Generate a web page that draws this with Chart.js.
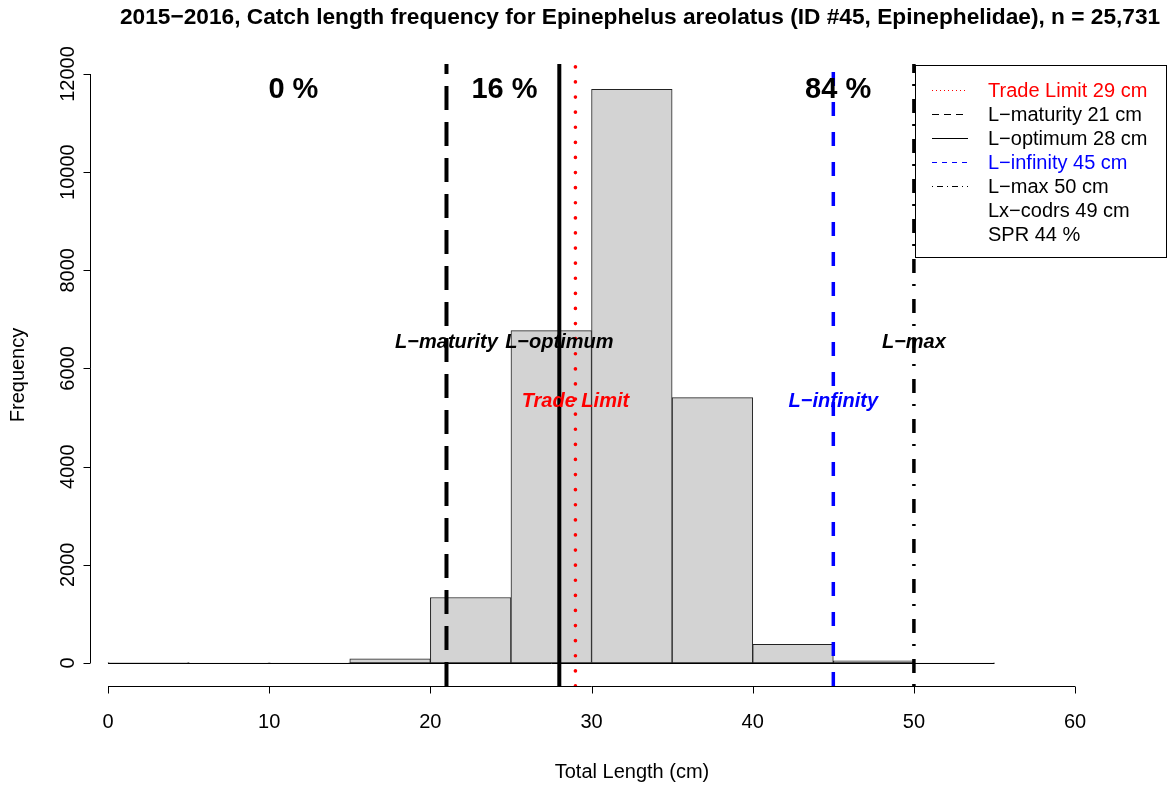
<!DOCTYPE html>
<html>
<head>
<meta charset="utf-8">
<script src="https://cdn.jsdelivr.net/npm/chart.js@4"></script>
<style>
  html,body{margin:0;padding:0;background:#fff;}
  canvas{display:block;}
</style>
</head>
<body>
<canvas id="hist" width="1174" height="787"></canvas>
<script>
// length bins (cm, lower edge) and catch counts per 5 cm bin
const binStarts = [0,5,10,15,20,25,30,35,40,45,50];
const binWidth = 5;
const counts = [10,3,4,85,1335,6770,11690,5405,380,45,4];

// reference lengths drawn as vertical lines
const refNames  = ['Trade Limit','L\u2212maturity','L\u2212optimum','L\u2212infinity','L\u2212max'];
const refValues = [29,21,28,45,50];
const refColors = ['red','black','black','blue','black'];
const refLabelY = [5330,6540,6540,5330,6540];

// share of catch in each length zone
const pctLabels = ['0 %','16 %','84 %'];
const pctX = [11.5,24.6,45.3];

const legendLines = ['Trade Limit 29 cm','L\u2212maturity 21 cm','L\u2212optimum 28 cm','L\u2212infinity 45 cm','L\u2212max 50 cm','Lx\u2212codrs 49 cm','SPR 44 %'];
const legendColors = ['red','black','black','blue','black','black','black'];

const xTicks = [0,10,20,30,40,50,60];
const yTicks = [0,2000,4000,6000,8000,10000,12000];

const FONT = '"Liberation Sans", Arial, Helvetica, sans-serif';

const dashFor = {
  'Trade Limit':[0.1,15],
  'L\u2212maturity':[24,12],
  'L\u2212optimum':[],
  'L\u2212infinity':[14,16],
  'L\u2212max':[2,11,14,13]
};
const widthFor = {'Trade Limit':3.6,'L\u2212maturity':4,'L\u2212optimum':4,'L\u2212infinity':3.5,'L\u2212max':3.5};

const refSets = refNames.map((n,i)=>({
  type:'line',
  label:n,
  data:[{x:refValues[i],y:-469},{x:refValues[i],y:12204}],
  borderColor:refColors[i],
  borderWidth:widthFor[n],
  borderDash:dashFor[n],
  borderCapStyle:n==='Trade Limit'?'round':'butt',
  pointRadius:0,
  fill:false,
  order:0
}));

const histSet = {
  type:'bar',
  label:'Frequency',
  data:binStarts.map((b,i)=>({x:b+binWidth/2,y:counts[i]})),
  backgroundColor:'#d3d3d3',
  borderColor:'#222',
  borderWidth:1,
  borderSkipped:false,
  barPercentage:1,
  categoryPercentage:1,
  order:1
};

// axes, titles and annotations in the style of base R graphics
const decor = {
  id:'decor',
  afterDatasetsDraw(chart){
    const {ctx} = chart;
    const xs = chart.scales.x, ys = chart.scales.y;
    ctx.save();
    ctx.fillStyle = '#000';
    ctx.strokeStyle = '#000';
    ctx.lineWidth = 1;

    // baseline under the bins
    ctx.beginPath();
    ctx.moveTo(xs.getPixelForValue(binStarts[0]), Math.round(ys.getPixelForValue(0))+0.5);
    ctx.lineTo(xs.getPixelForValue(binStarts[binStarts.length-1]+binWidth), Math.round(ys.getPixelForValue(0))+0.5);
    ctx.stroke();

    // x axis
    const axY = chart.chartArea.bottom + 0.5;
    ctx.beginPath();
    ctx.moveTo(xs.getPixelForValue(xTicks[0]), axY);
    ctx.lineTo(xs.getPixelForValue(xTicks[xTicks.length-1]), axY);
    xTicks.forEach(t=>{
      const px = Math.round(xs.getPixelForValue(t))+0.5;
      ctx.moveTo(px, axY); ctx.lineTo(px, axY+7);
    });
    ctx.stroke();
    ctx.font = '20px '+FONT;
    ctx.textAlign = 'center';
    ctx.textBaseline = 'middle';
    xTicks.forEach(t=>ctx.fillText(String(t), xs.getPixelForValue(t), 722));
    ctx.fillText('Total Length (cm)', 632, 772);

    // y axis
    const axX = chart.chartArea.left + 0.5;
    ctx.beginPath();
    ctx.moveTo(axX, ys.getPixelForValue(yTicks[0]));
    ctx.lineTo(axX, ys.getPixelForValue(yTicks[yTicks.length-1]));
    yTicks.forEach(t=>{
      const py = Math.round(ys.getPixelForValue(t))+0.5;
      ctx.moveTo(axX, py); ctx.lineTo(axX-7, py);
    });
    ctx.stroke();
    yTicks.forEach(t=>{
      ctx.save();
      ctx.translate(68, ys.getPixelForValue(t));
      ctx.rotate(-Math.PI/2);
      ctx.fillText(String(t), 0, 0);
      ctx.restore();
    });
    ctx.save();
    ctx.translate(18, 375);
    ctx.rotate(-Math.PI/2);
    ctx.fillText('Frequency', 0, 0);
    ctx.restore();

    // title
    ctx.font = 'bold 22.7px '+FONT;
    ctx.textAlign = 'left';
    ctx.fillText('2015\u22122016, Catch length frequency for Epinephelus areolatus (ID #45, Epinephelidae), n = 25,731', 120, 18);

    // zone percentages
    ctx.textAlign = 'center';
    ctx.font = 'bold 29px '+FONT;
    pctLabels.forEach((p,i)=>ctx.fillText(p, xs.getPixelForValue(pctX[i]), ys.getPixelForValue(11675)));

    // reference line labels
    ctx.font = 'italic bold 20px '+FONT;
    refNames.forEach((n,i)=>{
      ctx.fillStyle = refColors[i];
      ctx.fillText(n, xs.getPixelForValue(refValues[i]), ys.getPixelForValue(refLabelY[i]));
    });

    // legend box
    const bx = 915.5, by = 65.5, bw = 251, bh = 192;
    ctx.fillStyle = '#fff';
    ctx.fillRect(bx, by, bw, bh);
    ctx.strokeStyle = '#000';
    ctx.lineWidth = 1;
    ctx.setLineDash([]);
    ctx.strokeRect(bx, by, bw, bh);
    ctx.font = '20px '+FONT;
    ctx.textAlign = 'left';
    const sampleDash = [[1,3],[7,5],[],[5,5],[1,4,6,4]];
    const sampleColor = ['red','black','black','blue','black'];
    legendLines.forEach((txt,i)=>{
      const yy = 90 + i*24;
      if(i < sampleDash.length){
        ctx.strokeStyle = sampleColor[i];
        ctx.setLineDash(sampleDash[i]);
        ctx.beginPath();
        ctx.moveTo(932, yy+0.5); ctx.lineTo(968, yy+0.5);
        ctx.stroke();
      }
      ctx.fillStyle = legendColors[i];
      ctx.fillText(txt, 988, yy+1);
    });
    ctx.restore();
  }
};

new Chart(document.getElementById('hist'), {
  data:{datasets:[...refSets, histSet]},
  options:{
    responsive:false,
    animation:false,
    devicePixelRatio:1,
    layout:{padding:{left:90,top:64,right:18,bottom:101}},
    plugins:{legend:{display:false},tooltip:{enabled:false},title:{display:false}},
    scales:{
      x:{type:'linear',min:-1.117,max:65.02,display:false,offset:false,grid:{display:false}},
      y:{type:'linear',min:-469,max:12204,display:false,grid:{display:false}}
    }
  },
  plugins:[decor]
});
</script>
</body>
</html>
